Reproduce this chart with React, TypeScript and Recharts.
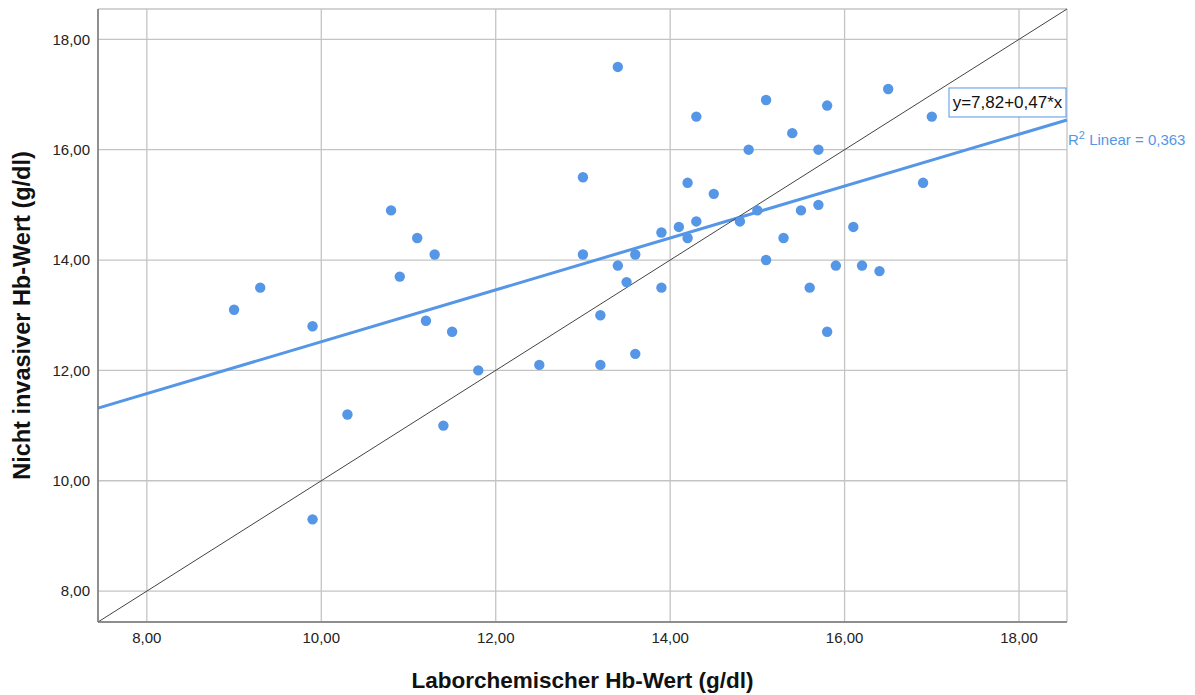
import {
  ScatterChart,
  Scatter,
  XAxis,
  YAxis,
  CartesianGrid,
  ReferenceLine,
  ReferenceDot,
} from 'recharts';

// Hb values per patient: lab measurement vs. non-invasive device
const labHb = [
  9.0, 9.3, 9.9, 9.9, 10.3, 10.8, 10.9, 11.1, 11.3, 11.2, 11.5, 11.8, 11.4,
  12.5, 13.0, 13.0, 13.2, 13.2, 13.4, 13.4, 13.5, 13.6, 13.6, 13.9, 13.9,
  14.1, 14.2, 14.2, 14.3, 14.3, 14.5, 14.8, 14.9, 15.0, 15.1, 15.1, 15.3,
  15.4, 15.5, 15.6, 15.7, 15.7, 15.8, 15.8, 15.9, 16.1, 16.2, 16.4, 16.5,
  16.9, 17.0,
];
const nonInvasiveHb = [
  13.1, 13.5, 12.8, 9.3, 11.2, 14.9, 13.7, 14.4, 14.1, 12.9, 12.7, 12.0, 11.0,
  12.1, 15.5, 14.1, 13.0, 12.1, 17.5, 13.9, 13.6, 14.1, 12.3, 14.5, 13.5,
  14.6, 15.4, 14.4, 16.6, 14.7, 15.2, 14.7, 16.0, 14.9, 16.9, 14.0, 14.4,
  16.3, 14.9, 13.5, 16.0, 15.0, 16.8, 12.7, 13.9, 14.6, 13.9, 13.8, 17.1,
  15.4, 16.6,
];

const ticks = [8, 10, 12, 14, 16, 18];
const axisMin = 7.44;
const axisMax = 18.55;

// linear fit
const intercept = 7.82;
const slope = 0.47;
const rSquared = 0.363;

const data = labHb.map((x, i) => ({ x, y: nonInvasiveHb[i] }));

const BLUE = '#5596e6';
const FONT = '"Liberation Sans", Arial, sans-serif';

const fmt = (v: number, d = 2) => v.toFixed(d).replace('.', ',');
const fitAt = (x: number) => intercept + slope * x;

const FitLabels = (props: any) => {
  const { cx, cy } = props;
  return (
    <g fontFamily={FONT}>
      <rect x={cx - 118} y={cy - 32} width={117} height={29} fill="#fff" stroke={BLUE} strokeWidth={1} />
      <text x={cx - 59.5} y={cy - 11.5} textAnchor="middle" fontSize={17} fill="#111">
        {`y=${fmt(intercept)}+${fmt(slope)}*x`}
      </text>
      <text x={cx + 1} y={cy + 25} fontSize={15} fill={BLUE}>
        R<tspan dy={-6} fontSize={11}>2</tspan>
        <tspan dy={6}>{` Linear = ${fmt(rSquared, 3)}`}</tspan>
      </text>
    </g>
  );
};

const App = () => {
  return (
    <div style={{ position: 'absolute', left: 0, top: 0, background: '#fff' }}>
      <ScatterChart
        width={1195}
        height={695}
        margin={{ top: 9, right: 128, left: 0, bottom: 0 }}
        style={{ fontFamily: FONT }}
      >
        <CartesianGrid stroke="#c4c4c4" strokeWidth={1.3} />
        <XAxis
          type="number"
          dataKey="x"
          domain={[axisMin, axisMax]}
          ticks={ticks}
          allowDataOverflow
          height={73}
          tickLine={false}
          tickSize={6}
          tickMargin={4}
          tickFormatter={(v) => fmt(v)}
          tick={{ fill: '#222', fontSize: 15 }}
          stroke="#777"
          strokeWidth={1.5}
          label={{
            value: 'Laborchemischer Hb-Wert (g/dl)',
            position: 'insideBottom',
            offset: 7,
            style: { fontSize: 22.5, fontWeight: 'bold', fill: '#111' },
          }}
        />
        <YAxis
          type="number"
          dataKey="y"
          domain={[axisMin, axisMax]}
          ticks={ticks}
          allowDataOverflow
          width={98}
          tickLine={false}
          tickFormatter={(v) => fmt(v)}
          tick={{ fill: '#222', fontSize: 15 }}
          stroke="#777"
          strokeWidth={1.5}
          label={{
            value: 'Nicht invasiver Hb-Wert (g/dl)',
            angle: -90,
            position: 'insideLeft',
            offset: 22,
            style: { fontSize: 23.5, fontWeight: 'bold', fill: '#111', textAnchor: 'middle' },
          }}
        />
        <ReferenceLine
          segment={[
            { x: axisMin, y: fitAt(axisMin) },
            { x: axisMax, y: fitAt(axisMax) },
          ]}
          stroke={BLUE}
          strokeWidth={3}
          ifOverflow="visible"
        />
        <ReferenceLine
          segment={[
            { x: axisMin, y: axisMin },
            { x: axisMax, y: axisMax },
          ]}
          stroke="#444"
          strokeWidth={1}
          ifOverflow="visible"
        />
        <Scatter data={data} fill={BLUE} shape={(p: any) => <circle cx={p.cx} cy={p.cy} r={5.2} fill={BLUE} />} isAnimationActive={false} />
        <ReferenceDot
          x={axisMax}
          y={fitAt(axisMax)}
          r={0}
          ifOverflow="visible"
          shape={(p: any) => <FitLabels {...p} />}
        />
      </ScatterChart>
    </div>
  );
};

export default App;
